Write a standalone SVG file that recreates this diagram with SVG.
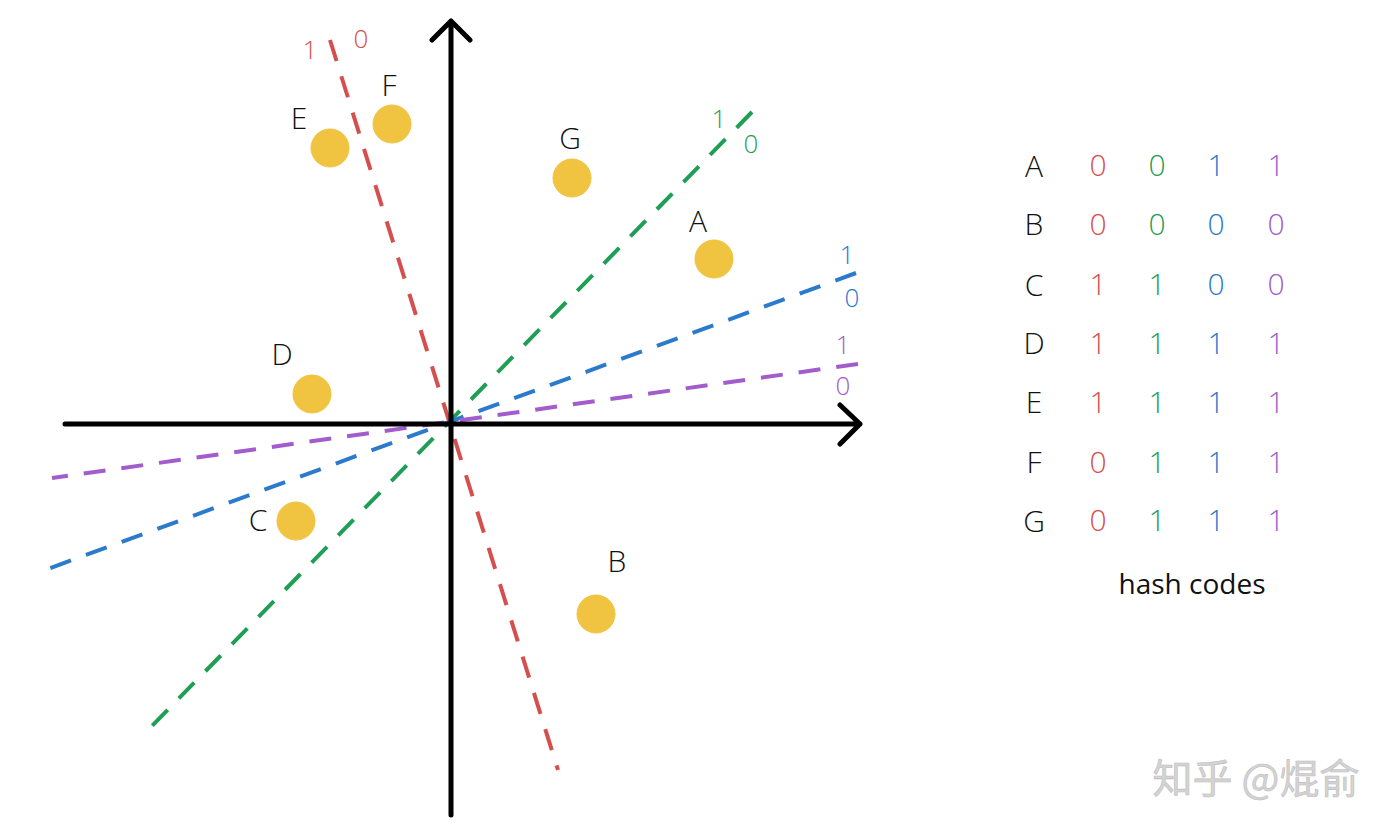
<svg xmlns="http://www.w3.org/2000/svg" width="1400" height="835" viewBox="0 0 1400 835">
<style>
.ax{stroke:#000;stroke-width:5;fill:none;stroke-linecap:round;stroke-linejoin:round}
.d{stroke-width:4;stroke-dasharray:22 16;fill:none}
.r{stroke:#d64f4f;fill:#d64f4f}
.g{stroke:#1f9e55;fill:#1f9e55}
.b{stroke:#2b7acb;fill:#2b7acb}
.p{stroke:#a35ccc;fill:#a35ccc}
text{font-family:"Open Sans","Liberation Sans",sans-serif;font-weight:300}
.lab{font-size:30px;fill:#111;text-anchor:middle}
.dig{font-size:26px;text-anchor:middle;stroke:none}
.tdig{font-size:30px;text-anchor:middle;stroke:none}
.pt{fill:#f0c440;stroke:#f0c440;stroke-width:1}
</style>
<rect width="1400" height="835" fill="#fff"/>
<g id="connectors">
<path class="d r" d="M330,40 L558,770"/>
<path class="d g" d="M752,112 L148,730"/>
<path class="d b" d="M856,273 L45,570"/>
<path class="d p" d="M858,364 L52,478"/>
<path class="ax" d="M65,424 L860,424 M840,405 L860,424 L840,444"/>
<path class="ax" d="M451,815 L451,21 M432,40 L451,21 L470,40"/>
</g>
<g id="line-labels">
<text class="dig r" x="310" y="59">1</text>
<text class="dig r" x="361" y="48">0</text>
<text class="dig g" x="719" y="128">1</text>
<text class="dig g" x="751" y="153">0</text>
<text class="dig b" x="847" y="264">1</text>
<text class="dig b" x="852" y="307">0</text>
<text class="dig p" x="843" y="354">1</text>
<text class="dig p" x="843" y="395">0</text>
</g>
<g id="node-E"><circle class="pt" cx="330" cy="148" r="19"/><text class="lab" x="299" y="129">E</text></g>
<g id="node-F"><circle class="pt" cx="392" cy="124" r="19"/><text class="lab" x="389" y="96">F</text></g>
<g id="node-G"><circle class="pt" cx="572" cy="178" r="19"/><text class="lab" x="570" y="149">G</text></g>
<g id="node-A"><circle class="pt" cx="714" cy="259" r="19"/><text class="lab" x="698" y="232">A</text></g>
<g id="node-D"><circle class="pt" cx="312" cy="394" r="19"/><text class="lab" x="282" y="365">D</text></g>
<g id="node-C"><circle class="pt" cx="296" cy="521" r="19"/><text class="lab" x="258" y="531">C</text></g>
<g id="node-B"><circle class="pt" cx="596" cy="614" r="19"/><text class="lab" x="617" y="572">B</text></g>
<g id="table">
<g class="lab">
<text x="1034" y="177">A</text>
<text x="1034" y="235">B</text>
<text x="1034" y="296">C</text>
<text x="1034" y="354">D</text>
<text x="1034" y="413">E</text>
<text x="1034" y="473">F</text>
<text x="1034" y="532">G</text>
</g>
<g class="r"><text class="tdig" x="1098" y="176">0</text><text class="tdig" x="1098" y="235">0</text><text class="tdig" x="1098" y="295">1</text><text class="tdig" x="1098" y="354">1</text><text class="tdig" x="1098" y="413">1</text><text class="tdig" x="1098" y="473">0</text><text class="tdig" x="1098" y="531">0</text></g>
<g class="g"><text class="tdig" x="1157" y="176">0</text><text class="tdig" x="1157" y="235">0</text><text class="tdig" x="1157" y="295">1</text><text class="tdig" x="1157" y="354">1</text><text class="tdig" x="1157" y="413">1</text><text class="tdig" x="1157" y="473">1</text><text class="tdig" x="1157" y="531">1</text></g>
<g class="b"><text class="tdig" x="1216" y="176">1</text><text class="tdig" x="1216" y="235">0</text><text class="tdig" x="1216" y="295">0</text><text class="tdig" x="1216" y="354">1</text><text class="tdig" x="1216" y="413">1</text><text class="tdig" x="1216" y="473">1</text><text class="tdig" x="1216" y="531">1</text></g>
<g class="p"><text class="tdig" x="1276" y="176">1</text><text class="tdig" x="1276" y="235">0</text><text class="tdig" x="1276" y="295">0</text><text class="tdig" x="1276" y="354">1</text><text class="tdig" x="1276" y="413">1</text><text class="tdig" x="1276" y="473">1</text><text class="tdig" x="1276" y="531">1</text></g>
<text x="1192" y="594" style="font-size:28px;fill:#111;text-anchor:middle;font-weight:400">hash codes</text>
</g>
<text x="1256" y="793" style="font-family:'Noto Sans CJK SC',sans-serif;font-size:40px;fill:#d4d4d4;text-anchor:middle;font-weight:400;stroke:#bdbdbd;stroke-width:0.6">知乎 @焜俞</text>
</svg>
